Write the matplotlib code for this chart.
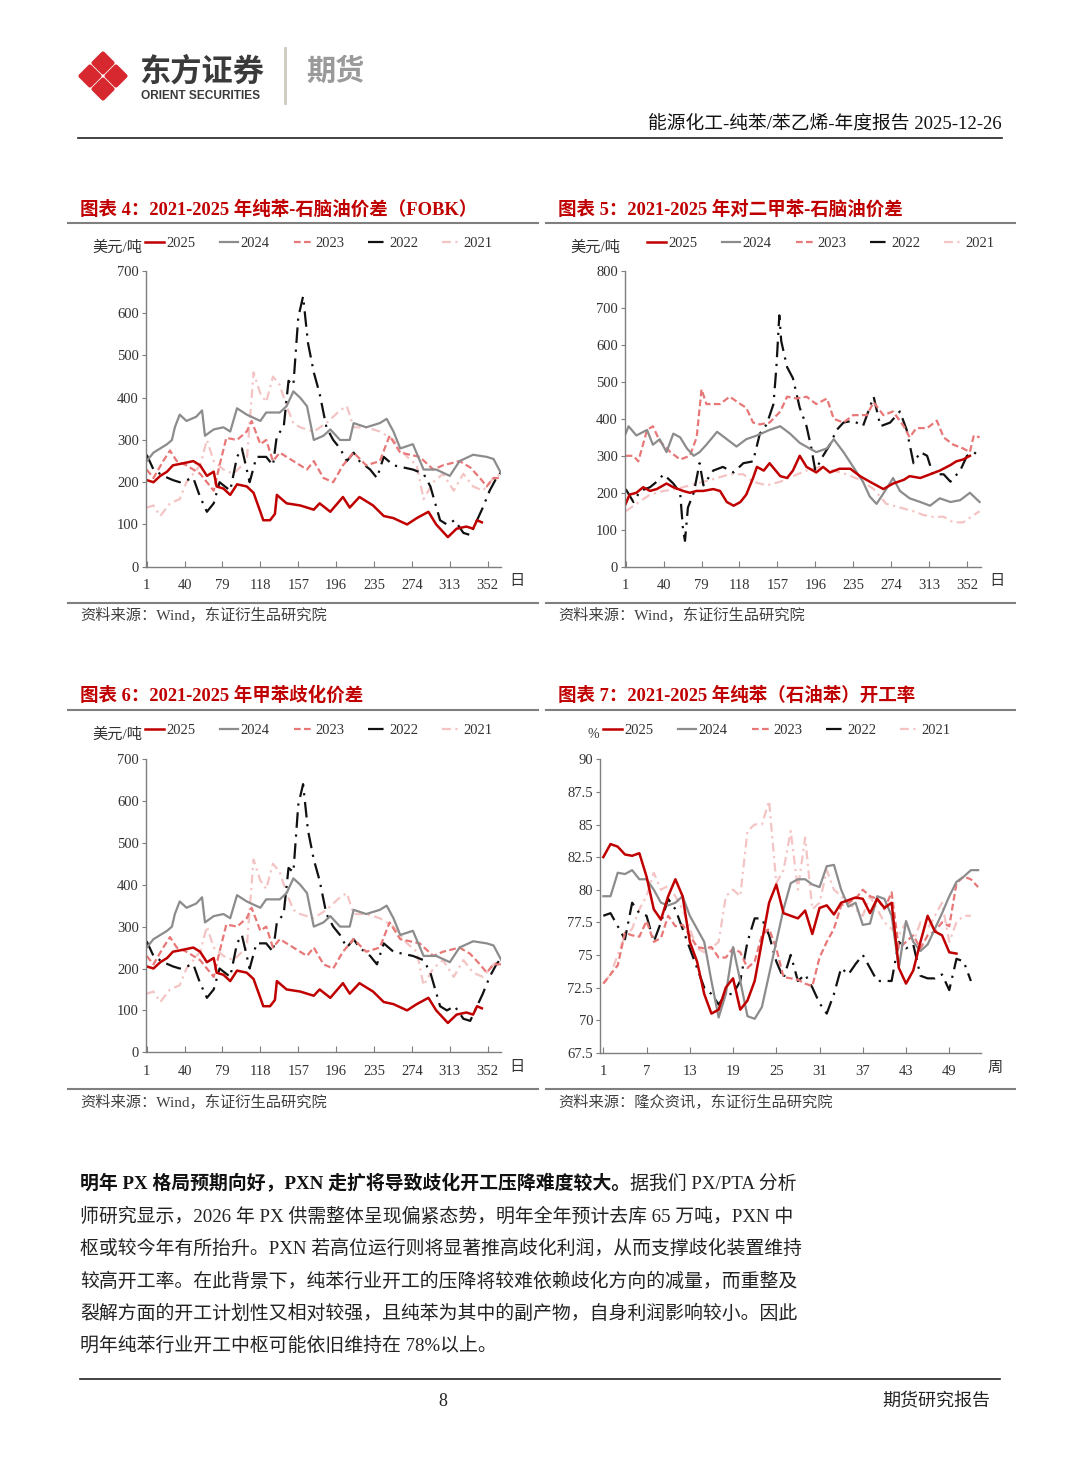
import matplotlib.pyplot as plt
from matplotlib.patches import Polygon

plt.rcParams['font.family'] = ['Liberation Serif', 'Noto Sans CJK SC']
plt.rcParams['axes.unicode_minus'] = False

# ---------------- data ----------------
years = ['2025', '2024', '2023', '2022', '2021']

# chart 4 / 6: benzene - naphtha spread (USD/t), day of year
bz_d25 = [1, 8, 15, 22, 28, 39, 49, 56, 63, 70, 73, 80, 87, 94, 104, 111, 118, 121, 128, 133,
          135, 145, 159, 173, 179, 190, 203, 210, 220, 234, 245, 255, 269, 279, 291, 299, 311, 320, 330, 337,
          341, 346]
bz_v25 = [205, 200, 215, 225, 240, 245, 250, 240, 215, 225, 190, 185, 170, 195, 190, 175, 130, 110, 110, 125,
          170, 150, 145, 135, 150, 130, 165, 140, 165, 145, 120, 115, 100, 115, 130, 100, 70, 90, 95, 90,
          110, 105]
bz_d24 = [1, 8, 22, 27, 30, 35, 42, 52, 58, 61, 70, 80, 87, 94, 104, 118, 124, 138, 145, 152,
          159, 166, 173, 183, 190, 200, 210, 214, 227, 241, 248, 255, 262, 275, 286, 299, 313, 323, 337, 351,
          358, 366]
bz_v24 = [250, 270, 290, 300, 330, 360, 345, 355, 370, 310, 325, 330, 320, 375, 360, 345, 365, 365, 380, 415,
          400, 380, 300, 310, 325, 300, 300, 340, 330, 340, 350, 320, 280, 290, 230, 230, 215, 250, 265, 260,
          255, 220]
bz_d23 = [1, 8, 18, 25, 32, 42, 56, 70, 76, 83, 94, 104, 109, 118, 124, 131, 138, 152, 166, 173,
          183, 193, 203, 214, 227, 241, 251, 262, 272, 282, 296, 306, 323, 334, 344, 351, 358, 366]
bz_v23 = [230, 210, 250, 275, 250, 240, 220, 180, 240, 305, 300, 320, 345, 290, 300, 250, 270, 250, 230, 250,
          210, 200, 240, 270, 240, 250, 310, 270, 265, 260, 230, 240, 250, 235, 210, 190, 210, 210]
bz_d22 = [1, 8, 18, 28, 35, 49, 56, 63, 70, 76, 87, 94, 99, 107, 114, 124, 131, 135, 142, 147,
          152, 157, 162, 167, 173, 179, 186, 193, 200, 207, 214, 220, 231, 238, 245, 255, 265, 275, 286, 293,
          303, 310, 318, 327, 334, 341, 347, 354, 361, 366]
bz_v22 = [265, 230, 215, 205, 200, 210, 165, 130, 150, 200, 180, 260, 280, 200, 260, 260, 240, 310, 330, 440,
          430, 590, 640, 530, 460, 410, 330, 300, 280, 250, 270, 250, 230, 210, 260, 240, 235, 230, 220, 190,
          110, 100, 110, 80, 75, 110, 140, 180, 210, 225]
bz_d21 = [1, 8, 15, 25, 35, 42, 56, 63, 70, 80, 90, 104, 111, 118, 124, 131, 138, 145, 152, 159,
          173, 186, 200, 207, 214, 227, 241, 255, 269, 279, 286, 296, 306, 317, 327, 337, 347, 358, 366]
bz_v21 = [140, 145, 120, 150, 160, 200, 240, 300, 250, 230, 220, 250, 460, 410, 390, 450, 430, 380, 340, 330,
          320, 340, 370, 380, 330, 330, 320, 300, 260, 240, 160, 200, 220, 180, 220, 190, 180, 210, 220]

# chart 6 (toluene disproportionation spread) is drawn identical to chart 4 in the report
tol_d = {'2025': bz_d25, '2024': bz_d24, '2023': bz_d23, '2022': bz_d22, '2021': bz_d21}
tol_v = {'2025': bz_v25, '2024': bz_v24, '2023': bz_v23, '2022': bz_v22, '2021': bz_v21}

# chart 5: PX - naphtha spread (USD/t)
px_d25 = [1, 5, 12, 19, 26, 33, 43, 50, 60, 67, 74, 81, 91, 98, 105, 112, 119, 125, 132, 136,
          143, 149, 160, 167, 173, 180, 187, 197, 204, 211, 221, 232, 242, 252, 259, 266, 276, 287, 293, 304,
          314, 324, 335, 341, 348, 355]
px_v25 = [170, 195, 200, 215, 205, 210, 225, 215, 205, 200, 205, 205, 210, 205, 175, 165, 175, 195, 240, 270,
          260, 280, 245, 240, 260, 300, 270, 255, 270, 255, 265, 265, 245, 230, 220, 210, 225, 235, 245, 240,
          250, 260, 275, 285, 290, 300]
px_d24 = [1, 4, 12, 23, 29, 36, 43, 50, 57, 64, 71, 77, 84, 95, 105, 115, 125, 136, 149, 160,
          170, 180, 190, 197, 208, 215, 225, 235, 245, 252, 259, 269, 276, 283, 293, 304, 314, 324, 335, 345,
          355, 365]
px_v24 = [360, 380, 355, 370, 330, 345, 310, 360, 350, 320, 300, 310, 330, 365, 345, 325, 345, 355, 370, 380,
          360, 335, 320, 310, 320, 345, 310, 270, 230, 190, 170, 210, 240, 205, 185, 175, 165, 185, 175, 180,
          200, 175]
px_d23 = [1, 9, 14, 23, 29, 36, 47, 57, 67, 74, 79, 84, 98, 108, 119, 125, 132, 139, 149, 160,
          167, 177, 187, 197, 208, 215, 225, 235, 249, 256, 266, 276, 287, 293, 300, 311, 321, 328, 338, 348,
          355, 359, 365]
px_v23 = [300, 300, 285, 370, 380, 340, 310, 290, 300, 350, 480, 440, 440, 460, 440, 430, 390, 385, 390, 420,
          460, 455, 460, 440, 455, 400, 390, 410, 410, 445, 410, 420, 380, 350, 375, 375, 395, 350, 330, 320,
          310, 355, 350]
px_d22 = [1, 9, 16, 26, 33, 40, 50, 57, 60, 62, 65, 71, 77, 81, 91, 101, 112, 122, 132, 139,
          146, 153, 156, 159, 161, 167, 173, 180, 187, 192, 196, 204, 211, 218, 225, 235, 245, 256, 263, 273,
          283, 290, 297, 304, 311, 317, 328, 335, 345, 352, 359, 364]
px_v22 = [210, 175, 205, 215, 230, 250, 225, 200, 100, 70, 160, 200, 280, 220, 260, 270, 255, 280, 285, 360,
          385, 440, 540, 680, 610, 540, 510, 430, 380, 320, 260, 300, 330, 370, 390, 395, 380, 460, 380, 390,
          420, 370, 280, 310, 300, 250, 250, 230, 260, 300, 310, 300]
px_d21 = [1, 12, 26, 40, 53, 67, 81, 95, 108, 122, 132, 146, 160, 173, 187, 201, 215, 228, 242, 256,
          269, 283, 297, 307, 317, 328, 338, 348, 359, 365]
px_v21 = [150, 170, 195, 205, 210, 220, 230, 240, 250, 250, 230, 220, 230, 245, 260, 270, 260, 250, 235, 210,
          170, 160, 150, 140, 135, 135, 120, 120, 140, 150]

# chart 7: benzene (petroleum) operating rate, %, by week
op25 = [82.5, 83.5, 83.3, 82.7, 82.6, 82.8, 81.0, 78.5, 77.7, 79.5, 80.8, 79.5, 76.0, 74.5, 72.0, 70.5, 70.8,
        72.5, 73.2, 70.8, 71.5, 73.0, 76.0, 79.0, 80.4, 78.2, 78.0, 77.8, 78.4, 76.6, 78.6, 78.8, 78.1, 79.0,
        79.2, 79.4, 79.3, 78.2, 79.3, 78.6, 79.0, 74.0, 72.8, 73.8, 76.0, 78.0, 76.8, 76.5, 75.2, 75.1]
op24 = [79.5, 79.5, 81.3, 81.2, 81.5, 80.8, 80.8, 80.0, 79.0, 78.8, 79.0, 79.5, 78.0, 77.0, 76.0, 73.0, 70.2,
        72.0, 75.6, 73.0, 70.3, 70.1, 71.0, 73.5, 76.0, 78.5, 80.5, 80.8, 80.8, 80.4, 80.2, 81.8, 81.9, 80.0,
        78.7, 79.0, 77.3, 77.4, 79.5, 79.3, 78.0, 74.0, 77.6, 76.0, 75.3, 75.8, 77.0, 78.2, 79.5, 80.6, 81.0,
        81.5, 81.5]
op23 = [72.8, 73.5, 74.2, 76.7, 76.5, 76.4, 77.6, 76.0, 76.3, 78.0, 77.2, 77.3, 76.5, 75.6, 75.5, 75.6, 74.8,
        74.8, 75.5, 75.2, 74.0, 74.5, 76.5, 77.0, 75.5, 73.3, 73.2, 73.1, 72.8, 72.6, 74.8, 76.0, 77.0, 78.8,
        79.0, 79.3, 80.0, 79.5, 79.3, 78.5, 79.8, 75.5, 76.0, 76.5, 75.5, 76.5, 76.8, 77.5, 77.2, 80.5, 81.0,
        80.8, 80.2]
op22 = [78.0, 78.2, 77.2, 76.2, 79.0, 78.2, 78.0, 76.0, 77.5, 79.3, 78.5, 77.0, 75.5, 74.0, 72.5, 72.0, 71.2,
        72.0, 72.0, 73.0, 76.0, 77.8, 77.8, 76.5, 74.5, 73.2, 75.0, 73.0, 73.5, 72.5, 71.3, 70.5, 72.0, 74.0,
        73.5, 74.3, 75.0, 74.0, 73.0, 73.0, 73.0, 76.0, 75.5, 75.8, 73.4, 73.2, 73.2, 73.5, 72.3, 74.7, 74.5,
        73.0]
op21 = [72.8, 73.5, 75.0, 76.5, 77.0, 78.5, 79.5, 81.3, 80.0, 80.3, 79.5, 78.5, 77.0, 75.5, 75.2, 75.5, 76.0,
        79.5, 80.0, 79.5, 84.5, 85.0, 85.0, 86.8, 80.5, 81.5, 84.5, 80.0, 84.0, 78.5, 79.0, 81.5, 80.0, 79.5,
        79.0, 78.5, 78.0, 79.5, 78.5, 77.5, 77.0, 76.5, 77.5, 76.0, 77.5, 77.0, 78.0, 79.0, 76.0, 77.5, 78.0,
        78.0]

day_ticks = [1, 40, 79, 118, 157, 196, 235, 274, 313, 352]
week_ticks = [1, 7, 13, 19, 25, 31, 37, 43, 49]

# ---------------- styles ----------------
style = {
    '2025': dict(color='#C00000', lw=1.8, ls='-'),
    '2024': dict(color='#8C8C8C', lw=1.6, ls='-'),
    '2023': dict(color='#E87878', lw=1.6, ls=(0, (3, 1.5))),
    '2022': dict(color='#111111', lw=1.6, ls=(0, (7, 3, 1, 3))),
    '2021': dict(color='#F4C4C4', lw=1.6, ls=(0, (4, 2, 1, 2))),
}
RED = '#C00000'
TXT = '#333333'
AXC = '#7F7F7F'

W, H = 1080, 1466
fig = plt.figure(figsize=(W / 100, H / 100), dpi=100)
bg = fig.add_axes([0, 0, 1, 1])
bg.set_xlim(0, W)
bg.set_ylim(H, 0)
bg.axis('off')


def px_axes(l, t, r, b):
    return fig.add_axes([l / W, 1 - b / H, (r - l) / W, (b - t) / H])


# ---------------- header ----------------
cx, cy, R = 103, 76, 26
for ox, oy in [(0, -1), (1, 0), (0, 1), (-1, 0)]:
    x0, y0 = cx + ox * R / 2, cy + oy * R / 2
    r = R / 2 - 3.5
    bg.add_patch(Polygon([(x0, y0 - r), (x0 + r, y0), (x0, y0 + r), (x0 - r, y0)],
                         closed=True, fc='#D7282F', ec='#D7282F', lw=3, joinstyle='round'))
bg.text(139, 72, '东方证券', fontsize=22.5, fontweight='bold', color='#3A3A3A',
        family='Noto Sans CJK SC', ha='left', va='center')
bg.text(141, 96, 'ORIENT SECURITIES', fontsize=8.6, fontweight='bold', color='#3A3A3A',
        family='Liberation Sans', ha='left', va='center')
bg.plot([285, 285], [48, 103], color='#CFCABD', lw=2)
bg.text(306, 71, '期货', fontsize=21, fontweight='bold', color='#9A9A9A',
        family='Noto Sans CJK SC', ha='left', va='center')
bg.text(1002, 124, '能源化工-纯苯/苯乙烯-年度报告 2025-12-26', fontsize=13.5, color='#111111',
        ha='right', va='center')
bg.plot([78, 1002], [138, 138], color='#222222', lw=1.2)

# ---------------- chart frames ----------------
cols = [(68, 538, 80), (546, 1015, 558)]
rows = [(210, 223, 603, 615), (696, 710, 1089, 1102)]
titles = [['图表 4：2021-2025 年纯苯-石脑油价差（FOBK）', '图表 5：2021-2025 年对二甲苯-石脑油价差'],
          ['图表 6：2021-2025 年甲苯歧化价差', '图表 7：2021-2025 年纯苯（石油苯）开工率']]
sources = [['资料来源：Wind，东证衍生品研究院', '资料来源：Wind，东证衍生品研究院'],
           ['资料来源：Wind，东证衍生品研究院', '资料来源：隆众资讯，东证衍生品研究院']]
for i, (ty, ly, by, sy) in enumerate(rows):
    for j, (lx, rx, tx) in enumerate(cols):
        bg.text(tx, ty, titles[i][j], fontsize=13.3, fontweight='bold', color=RED, ha='left', va='center')
        bg.plot([lx, rx], [ly, ly], color=AXC, lw=1.5)
        bg.plot([lx, rx], [by, by], color=AXC, lw=1.5)
        bg.text(tx, sy, sources[i][j], fontsize=11, color='#404040', ha='left', va='center')


def style_axes(ax, xticks, xlim, yticks, ylim, fmt=None):
    ax.set_xlim(*xlim)
    ax.set_ylim(*ylim)
    for s in ['top', 'right']:
        ax.spines[s].set_visible(False)
    for s in ['left', 'bottom']:
        ax.spines[s].set_color(AXC)
        ax.spines[s].set_linewidth(1.0)
    ax.set_xticks(xticks)
    ax.set_yticks(yticks)
    if fmt:
        ax.set_yticklabels([fmt(v) for v in yticks])
    ax.tick_params(axis='x', direction='in', length=4, pad=9, labelsize=10.5,
                   color=AXC, labelcolor=TXT)
    ax.tick_params(axis='y', direction='out', length=3, pad=2, labelsize=10.5,
                   color=AXC, labelcolor=TXT)
    ax.patch.set_alpha(0)


def add_legend(ax, handles, x, y):
    ax.legend(handles, years, ncol=5, loc='center left', bbox_to_anchor=(x / W, 1 - y / H),
              bbox_transform=fig.transFigure, frameon=False, fontsize=10.5, borderpad=0,
              handlelength=1.25, handletextpad=0.2, columnspacing=1.65, labelcolor=TXT)


def draw_days(ax, dd, vv):
    h = {}
    for y in ['2021', '2022', '2023', '2024', '2025']:
        h[y], = ax.plot(dd[y], vv[y], **style[y])
    return [h[y] for y in years]


# chart 4
ax4 = px_axes(145.7, 271, 501.3, 566.7)
hs = draw_days(ax4, tol_d, tol_v)
style_axes(ax4, day_ticks, (0, 366), range(0, 701, 100), (0, 700))
add_legend(ax4, hs, 138, 243)
bg.text(92, 248, '美元/吨', fontsize=11, color=TXT, ha='left', va='center')
bg.text(517, 582, '日', fontsize=11, color=TXT, ha='center', va='center')

# chart 5
ax5 = px_axes(624.7, 271, 980.6, 566.7)
px_d = {'2025': px_d25, '2024': px_d24, '2023': px_d23, '2022': px_d22, '2021': px_d21}
px_v = {'2025': px_v25, '2024': px_v24, '2023': px_v23, '2022': px_v22, '2021': px_v21}
hs = draw_days(ax5, px_d, px_v)
style_axes(ax5, day_ticks, (0, 366), range(0, 801, 100), (0, 800))
add_legend(ax5, hs, 640, 243)
bg.text(570, 248, '美元/吨', fontsize=11, color=TXT, ha='left', va='center')
bg.text(997, 582, '日', fontsize=11, color=TXT, ha='center', va='center')

# chart 6
ax6 = px_axes(145.7, 759, 501.3, 1052.3)
hs = draw_days(ax6, tol_d, tol_v)
style_axes(ax6, day_ticks, (0, 366), range(0, 701, 100), (0, 700))
add_legend(ax6, hs, 138, 730)
bg.text(92, 735, '美元/吨', fontsize=11, color=TXT, ha='left', va='center')
bg.text(517, 1068, '日', fontsize=11, color=TXT, ha='center', va='center')

# chart 7
ax7 = px_axes(600, 759.3, 980.7, 1052.7)
op = {'2025': op25, '2024': op24, '2023': op23, '2022': op22, '2021': op21}
h7 = {}
for y in ['2021', '2022', '2023', '2024', '2025']:
    h7[y], = ax7.plot(range(1, len(op[y]) + 1), op[y], **style[y])
style_axes(ax7, week_ticks, (0.54, 53.36), [67.5 + 2.5 * k for k in range(10)], (67.5, 90),
           fmt=lambda v: f'{v:g}')
add_legend(ax7, [h7[y] for y in years], 596, 730)
bg.text(587, 735, '%', fontsize=10, color=TXT, ha='left', va='center')
bg.text(995, 1068, '周', fontsize=11, color=TXT, ha='center', va='center')

# ---------------- body text ----------------
para_y = [1184, 1217, 1249, 1282, 1314, 1346]
lines = [
    '师研究显示，2026 年 PX 供需整体呈现偏紧态势，明年全年预计去库 65 万吨，PXN 中',
    '枢或较今年有所抬升。PXN 若高位运行则将显著推高歧化利润，从而支撑歧化装置维持',
    '较高开工率。在此背景下，纯苯行业开工的压降将较难依赖歧化方向的减量，而重整及',
    '裂解方面的开工计划性又相对较强，且纯苯为其中的副产物，自身利润影响较小。因此',
    '明年纯苯行业开工中枢可能依旧维持在 78%以上。',
]
t_bold = fig.text(80 / W, 1 - para_y[0] / H, '明年 PX 格局预期向好，PXN 走扩将导致歧化开工压降难度较大。',
                  fontsize=13.6, fontweight='bold', color='#111111', ha='left', va='center')
fig.canvas.draw()
bb = t_bold.get_window_extent()
fig.text(bb.x1 / W, 1 - para_y[0] / H, '据我们 PX/PTA 分析', fontsize=13.6, color='#222222',
         ha='left', va='center')
for yy, s in zip(para_y[1:], lines):
    bg.text(80, yy, s, fontsize=13.6, color='#222222', ha='left', va='center')

# ---------------- footer ----------------
bg.plot([80, 1000], [1379, 1379], color='#222222', lw=1.2)
bg.text(443, 1402, '8', fontsize=13, color='#222222', ha='center', va='center')
bg.text(990, 1402, '期货研究报告', fontsize=13, color='#222222', ha='right', va='center')

fig.savefig('out.png', dpi=100)
